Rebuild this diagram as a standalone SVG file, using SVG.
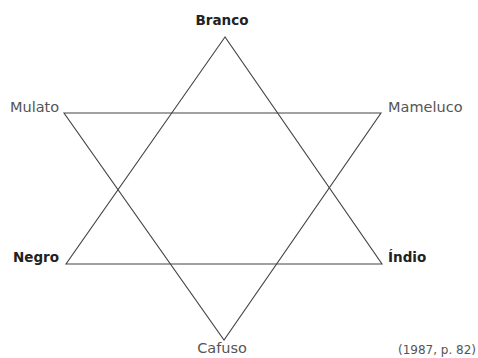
<svg xmlns="http://www.w3.org/2000/svg" width="478" height="358" viewBox="0 0 478 358">
<style>
text{font-family:"DejaVu Sans","Liberation Sans",sans-serif;font-size:14.5px;fill:#555}
.b{font-weight:bold;font-size:13.5px;fill:#222}
.ln{stroke:#444;stroke-width:1.1;fill:none}
</style>
<rect width="478" height="358" fill="#fff"/>
<g id="connectors">
<polygon class="ln" points="225,37 66,264 382,264"/>
<polygon class="ln" points="64,113 381,113 224,340"/>
</g>
<g id="branco"><text class="b" x="222" y="24.5" text-anchor="middle">Branco</text></g>
<g id="mulato"><text x="10" y="112">Mulato</text></g>
<g id="mameluco"><text x="388" y="112">Mameluco</text></g>
<g id="negro"><text class="b" x="13" y="262">Negro</text></g>
<g id="indio"><text class="b" x="388" y="262">Índio</text></g>
<g id="cafuso"><text x="222" y="353" text-anchor="middle">Cafuso</text></g>
<g id="ref"><text x="476" y="354" text-anchor="end" style="font-size:12px">(1987, p. 82)</text></g>
</svg>
